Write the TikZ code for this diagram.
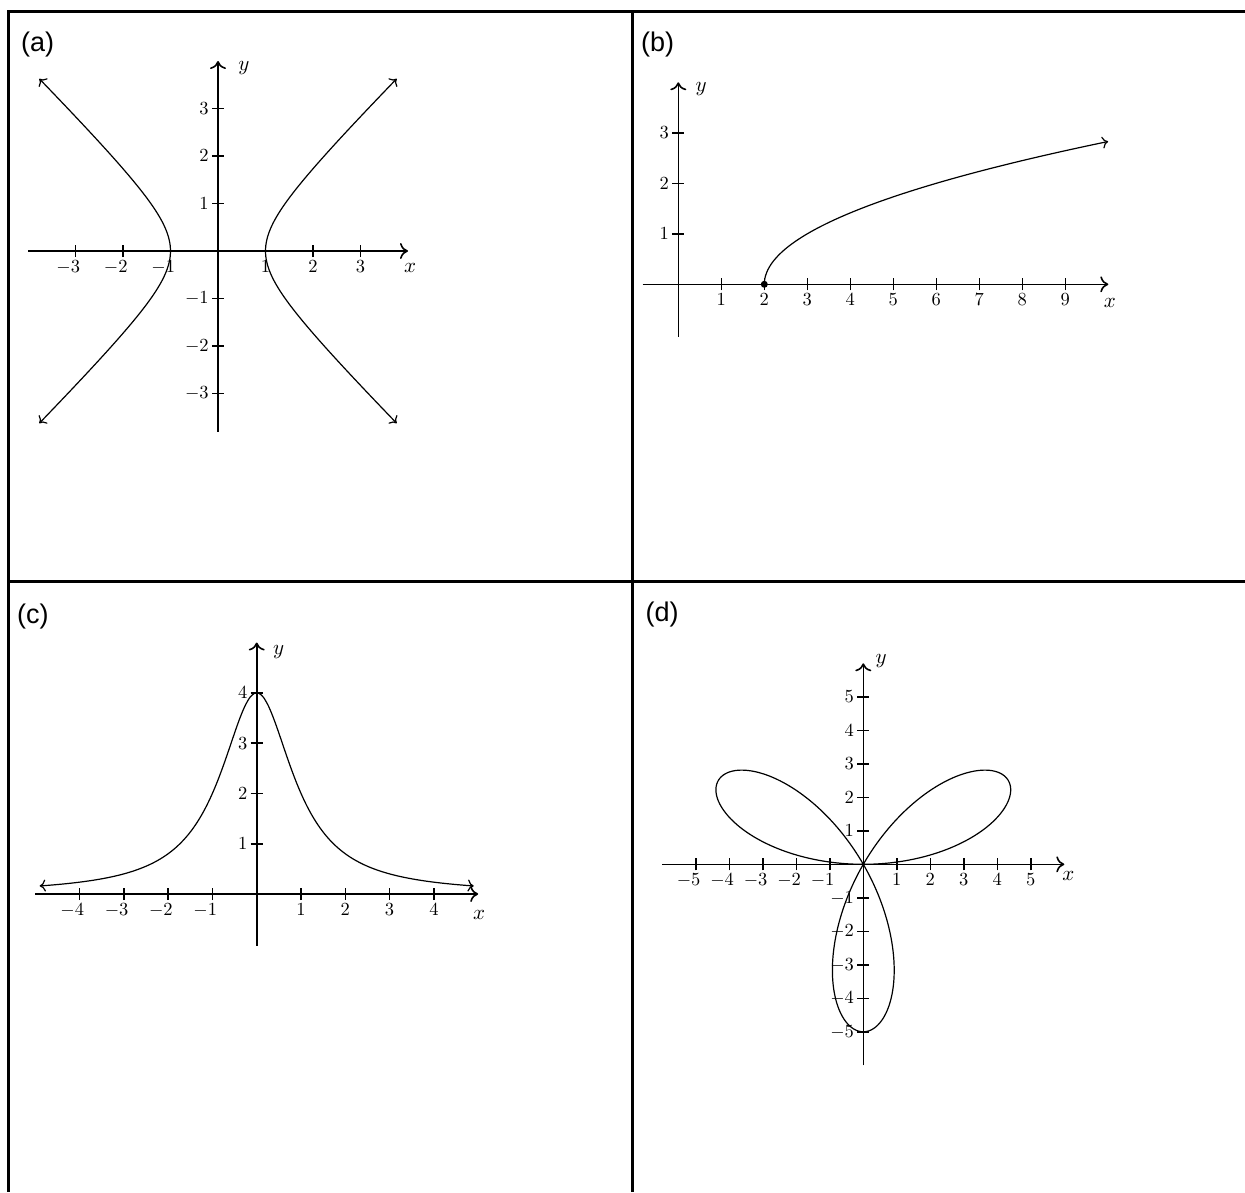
\documentclass[tikz,border=0pt]{standalone}
\usepackage{fontspec}
\usetikzlibrary{arrows.meta}
\newfontfamily\panelfont{Liberation Sans}
\newcommand{\ticknum}[1]{\ifnum#1<0 \llap{$-$}\number\numexpr0-(#1)\relax\else#1\fi}

\begin{document}
\begin{tikzpicture}[x=1pt, y=1pt,
    frame/.style={line width=3pt},
    axis/.style={line width=1.6pt, -{Computer Modern Rightarrow[length=8pt,width=16pt]}},
    tickmark/.style={line width=1.6pt},
    graph/.style={line width=1.2pt, smooth},
    bothends/.style={{Computer Modern Rightarrow[length=6pt,width=12pt]}-{Computer Modern Rightarrow[length=6pt,width=12pt]}},
    oneend/.style={-{Computer Modern Rightarrow[length=6pt,width=12pt]}},
    panel/.style={anchor=north west, inner sep=0pt, font=\panelfont\fontsize{27}{27}\selectfont},
    numlab/.style={inner sep=1.6pt, font=\normalsize, scale=1.85, transform shape},
    varlab/.style={inner sep=0pt, font=\normalsize, scale=2.1, transform shape}]

\useasboundingbox (0,0) rectangle (1245,-1192);

\draw [frame] (1245,-11.7) -| (8.3,-1192);
\draw [frame] (632.3,-11.7) -- (632.3,-1192);
\draw [frame] (8.3,-581.7) -- (1245,-581.7);

\node [panel] (lab_a) at (21,-32) {(a)};
\node [panel] (lab_b) at (641,-32) {(b)};
\node [panel] (lab_c) at (17,-604) {(c)};
\node [panel] (lab_d) at (645.5,-602) {(d)};

\begin{scope}[x=47.5pt, y=47.5pt, shift={(218pt,-251pt)}]
  \draw [axis] (-4,0) -- (4,0);
  \draw [axis] (0,-3.8) -- (0,4);
  \foreach \i in {-3,-2,-1,1,2,3} {
    \draw [tickmark] (\i,0) ++(0,-6pt) -- ++(0,12pt);
    \draw [tickmark] (0,\i) ++(-6pt,0) -- ++(12pt,0);
    \node [numlab, anchor=north] (xt_a\i) at ([yshift=-6pt]\i,0) {$\ticknum{\i}$};
    \node [numlab, anchor=east] (yt_a\i) at ([xshift=-6pt]0,\i) {$\i$};
  }
  \node [varlab, anchor=north west] (y_a) at ([xshift=20pt]0,4) {$y$};
  \node [varlab, anchor=north] (x_a) at ([xshift=2pt, yshift=-12pt]4,0) {$x$};
  \draw [graph, bothends] plot[domain=-2:2, samples=60] ({cosh(\x)},{sinh(\x)});
  \draw [graph, bothends] plot[domain=-2:2, samples=60] ({-cosh(\x)},{sinh(\x)});
\end{scope}

\begin{scope}[x=43pt, y=50.5pt, shift={(678.3pt,-284.3pt)}]
  \draw [axis] (-0.83,0) -- (10,0);
  \draw [axis] (0,-1.04) -- (0,4);
  \foreach \i in {1,...,9} {
    \draw [tickmark] (\i,0) ++(0,-6pt) -- ++(0,12pt);
    \node [numlab, anchor=north] (xt_b\i) at ([yshift=-6pt]\i,0) {$\i$};
  }
  \foreach \i in {1,2,3} {
    \draw [tickmark] (0,\i) ++(-6pt,0) -- ++(12pt,0);
    \node [numlab, anchor=east] (yt_b\i) at ([xshift=-6pt]0,\i) {$\i$};
  }
  \node [varlab, anchor=north west] (y_b) at ([xshift=17pt]0,4) {$y$};
  \node [varlab, anchor=north] (x_b) at ([xshift=1.5pt, yshift=-14pt]10,0) {$x$};
  \draw [graph, oneend] plot[domain=0:2.828, samples=50] ({2+\x*\x},{\x});
  \node [circle, fill, inner sep=0pt, minimum size=7pt] (dot_b) at (2,0) {};
\end{scope}

\begin{scope}[x=44.3pt, y=50.3pt, shift={(256.7pt,-894pt)}]
  \draw [axis] (-5,0) -- (5,0);
  \draw [axis] (0,-1.03) -- (0,5);
  \foreach \i in {-4,-3,-2,-1,1,2,3,4} {
    \draw [tickmark] (\i,0) ++(0,-6pt) -- ++(0,12pt);
    \node [numlab, anchor=north] (xt_c\i) at ([yshift=-6pt]\i,0) {$\ticknum{\i}$};
  }
  \foreach \i in {1,...,4} {
    \draw [tickmark] (0,\i) ++(-6pt,0) -- ++(12pt,0);
    \node [numlab, anchor=east] (yt_c\i) at ([xshift=-6pt]0,\i) {$\i$};
  }
  \node [varlab, anchor=north west] (y_c) at ([xshift=16pt, yshift=-3pt]0,5) {$y$};
  \node [varlab, anchor=north] (x_c) at ([xshift=1pt, yshift=-16pt]5,0) {$x$};
  \draw [graph, bothends] plot[domain=-4.9:4.9, samples=100] ({\x},{4/(1+\x*\x)});
\end{scope}

\begin{scope}[x=33.5pt, y=33.5pt, shift={(863.3pt,-864.3pt)}]
  \draw [axis] (-6,0) -- (6,0);
  \draw [axis] (0,-6) -- (0,6);
  \foreach \i in {-5,-4,-3,-2,-1,1,2,3,4,5} {
    \draw [tickmark] (\i,0) ++(0,-6pt) -- ++(0,12pt);
    \draw [tickmark] (0,\i) ++(-6pt,0) -- ++(12pt,0);
    \node [numlab, anchor=north] (xt_d\i) at ([yshift=-6pt]\i,0) {$\ticknum{\i}$};
    \node [numlab, anchor=east] (yt_d\i) at ([xshift=-6pt]0,\i) {$\i$};
  }
  \node [varlab, anchor=west] (y_d) at ([xshift=12pt, yshift=2pt]0,6) {$y$};
  \node [varlab, anchor=north] (x_d) at ([xshift=4pt, yshift=-7pt]6,0) {$x$};
  \draw [graph] plot[domain=0:180, samples=240] ({5*sin(3*\x)*cos(\x)},{5*sin(3*\x)*sin(\x)});
\end{scope}

\end{tikzpicture}
\end{document}
